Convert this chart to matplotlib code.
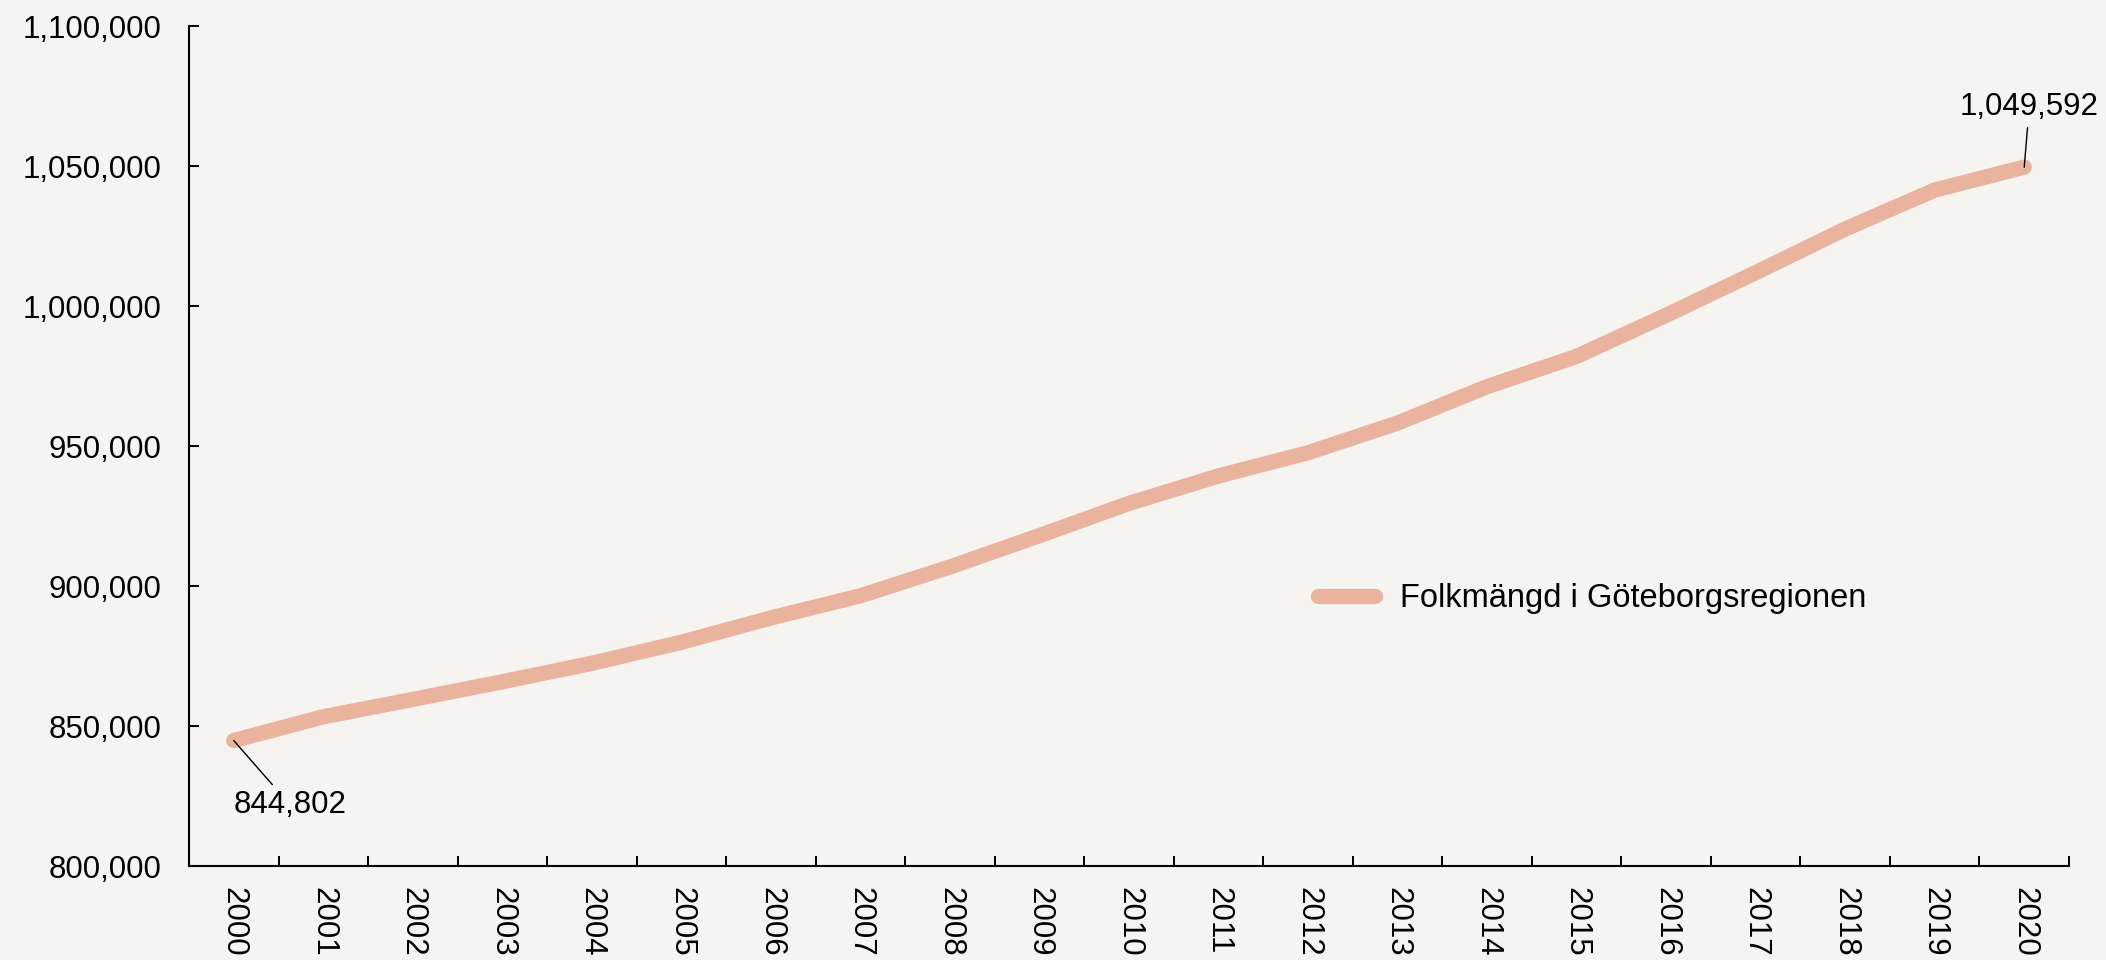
import matplotlib
matplotlib.use("Agg")
import matplotlib.pyplot as plt
from matplotlib.ticker import FuncFormatter, FixedLocator

years = [str(y) for y in range(2000, 2021)]
population = [844802, 853300, 859500, 865800, 872400, 879900, 888600, 896500,
              906800, 918000, 929500, 939300, 947600, 958200, 971200, 982000,
              996700, 1011900, 1027500, 1041400, 1049592]
series_label = "Folkmängd i Göteborgsregionen"
y_ticks = [800000, 850000, 900000, 950000, 1000000, 1050000, 1100000]

BG = "#F5F4F0"
LINE = "#E9B39D"

plt.rcParams['font.family'] = ['Liberation Sans', 'DejaVu Sans']

fig = plt.figure(figsize=(21.06, 9.60), dpi=100, facecolor=BG)
ax = fig.add_axes([189/2106, 1-866/960, (2069-189)/2106, (866-26)/960])
ax.set_facecolor(BG)

x = list(range(len(years)))
ax.plot(x, population, color=LINE, lw=11, solid_capstyle='round',
        solid_joinstyle='miter', label=series_label, zorder=3)

ax.set_xlim(-0.5, len(years) - 0.5)
ax.set_ylim(y_ticks[0], y_ticks[-1])
ax.set_yticks(y_ticks)
ax.yaxis.set_major_formatter(FuncFormatter(lambda v, p: f"{int(v):,}"))

ax.set_xticks(x)
ax.set_xticklabels(years, rotation=270, ha='center', va='top')
ax.xaxis.set_minor_locator(FixedLocator([i - 0.5 for i in range(len(years) + 1)]))
ax.tick_params(axis='x', which='major', length=0, pad=15, labelsize=22.5)
ax.tick_params(axis='x', which='minor', direction='in', length=7.2, width=1.4, color='black')
ax.tick_params(axis='y', direction='in', length=7.2, width=1.4, pad=20, labelsize=22.5)

for s in ['top', 'right']:
    ax.spines[s].set_visible(False)
for s in ['left', 'bottom']:
    ax.spines[s].set_linewidth(1.5)
    ax.spines[s].set_color('black')

# annotations
ax.annotate(f"{population[0]:,}", xy=(0, population[0]), xytext=(56, -64),
            textcoords='offset pixels', ha='center', va='center', fontsize=22.5,
            arrowprops=dict(arrowstyle='-', color='black', lw=1.0,
                            shrinkA=2, shrinkB=0), zorder=5)
ax.annotate(f"{population[-1]:,}", xy=(len(years) - 1, population[-1]), xytext=(5, 60),
            textcoords='offset pixels', ha='center', va='center', fontsize=22.5,
            arrowprops=dict(arrowstyle='-', color='black', lw=1.0,
                            shrinkA=2, shrinkB=0), zorder=5)

leg = fig.legend(loc='center left', bbox_to_anchor=(1318/2106, 1-599/960),
                 frameon=False, fontsize=23.5, handlelength=1.75, handletextpad=0.75,
                 borderpad=0, borderaxespad=0)

fig.savefig("out.png", dpi=100, facecolor=BG)
